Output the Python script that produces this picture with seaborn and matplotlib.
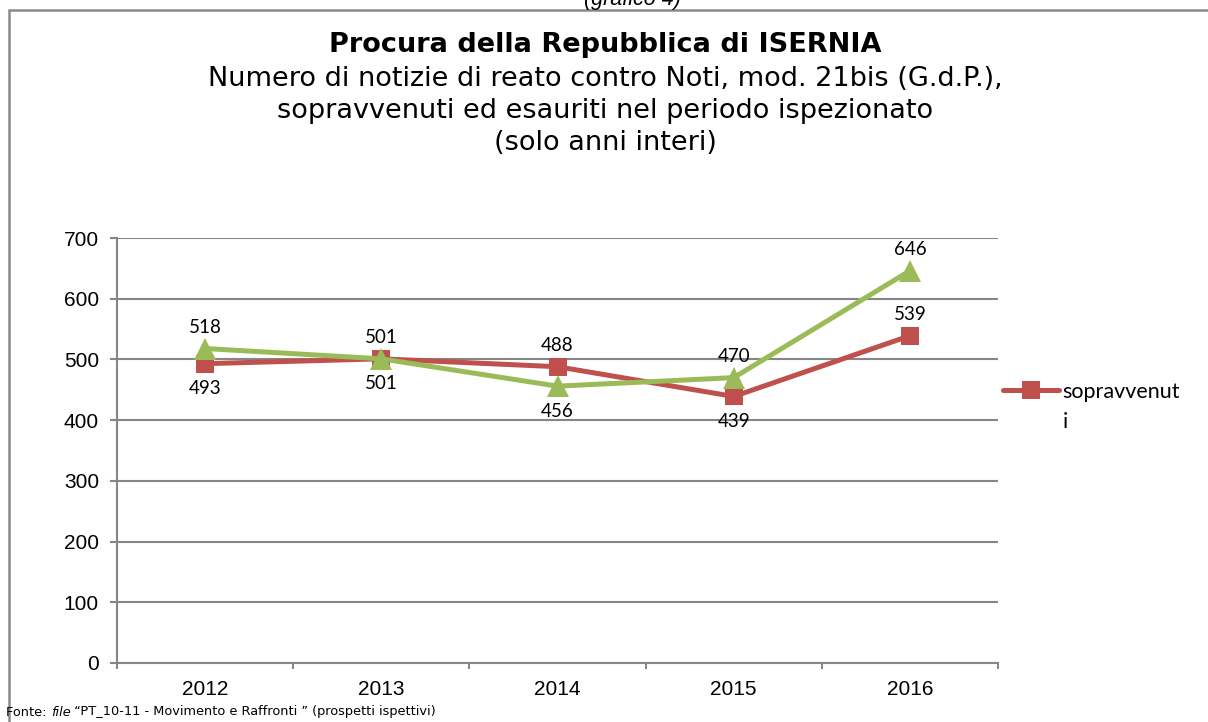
import matplotlib
matplotlib.use("Agg")
import matplotlib.pyplot as plt
import seaborn as sns
import pandas as pd
from matplotlib.patches import Rectangle

years = ["2012", "2013", "2014", "2015", "2016"]
sopravvenuti = [493, 501, 488, 439, 539]
esauriti = [518, 501, 456, 470, 646]
yticks = [0, 100, 200, 300, 400, 500, 600, 700]

# label placement: +1 above, -1 below
pos_sop = [-1, 1, 1, -1, 1]
pos_esa = [1, -1, -1, 1, 1]

RED = "#C0504D"
GREEN = "#9BBB59"
GRAY = "#868686"

sns.set_theme(style="white", rc={"text.color": "black", "axes.labelcolor": "black",
                                 "xtick.color": "black", "ytick.color": "black"})
plt.rcParams['font.family'] = ['Liberation Sans', 'DejaVu Sans']

W, H = 1208, 722
fig = plt.figure(figsize=(W / 100, H / 100), dpi=100)
ax = fig.add_axes([117 / W, 1 - 663 / H, (998 - 117) / W, (663 - 238) / H])

df_s = pd.DataFrame({"x": range(len(years)), "y": sopravvenuti})
df_e = pd.DataFrame({"x": range(len(years)), "y": esauriti})

sns.lineplot(data=df_s, x="x", y="y", ax=ax, color=RED, lw=3.6, marker="s",
             markersize=13, markeredgewidth=0, label="sopravvenut", zorder=3)
sns.lineplot(data=df_e, x="x", y="y", ax=ax, color=GREEN, lw=3.6, marker="^",
             markersize=15.5, markeredgewidth=0, label="_esauriti", zorder=4)

ax.set_xlim(-0.5, len(years) - 0.5)
ax.set_ylim(0, 700)
ax.set_yticks(yticks)
ax.set_yticklabels([str(v) for v in yticks], fontsize=15)
ax.set_xticks(range(len(years)))
ax.set_xticklabels(years, fontsize=15)
ax.set_xticks([i - 0.5 for i in range(len(years) + 1)], minor=True)
ax.tick_params(axis="x", which="major", length=0, pad=12, labelcolor="black")
ax.tick_params(axis="x", which="minor", length=4, width=1.5, color=GRAY, direction="out", bottom=True)
ax.tick_params(axis="y", length=5, width=1.5, color=GRAY, direction="out", left=True, pad=8,
               labelcolor="black")
ax.set_xlabel("")
ax.set_ylabel("")
ax.yaxis.grid(True, color=GRAY, lw=1.5)
ax.xaxis.grid(False)
ax.set_axisbelow(True)
for s in ["top", "right"]:
    ax.spines[s].set_visible(False)
for s in ["left", "bottom"]:
    ax.spines[s].set_color(GRAY)
    ax.spines[s].set_linewidth(1.5)

LBL_FONT = ["Lato", "DejaVu Sans"]

def label(vals, pos):
    for i, (v, p) in enumerate(zip(vals, pos)):
        ax.annotate(str(v), (i, v), xytext=(0, 15 if p > 0 else -18), textcoords="offset points",
                    ha="center", va="center", fontsize=13.5, family=LBL_FONT, color="black")

label(sopravvenuti, pos_sop)
label(esauriti, pos_esa)

leg = ax.legend(loc="center left", bbox_to_anchor=(1003 / W, 1 - 392 / H), bbox_transform=fig.transFigure,
                frameon=False, handlelength=2.6, handletextpad=0.15, borderpad=0, borderaxespad=0,
                prop={"family": LBL_FONT, "size": 15.5})
fig.text(1063 / W, 1 - 422 / H, "i", ha="left", va="center", fontsize=15.5, family=LBL_FONT)

# frame around chart
fig.patches.append(Rectangle((9 / W, -0.1), 1.2, 1 - 10 / H + 0.1, transform=fig.transFigure,
                             fill=False, ec="#8A8A8A", lw=1.8))

fig.text(632 / W, 1 - 5 / H, "(grafico 4)", ha="center", va="baseline", fontsize=15.5, style="italic")
fig.text(605 / W, 1 - 45 / H, "Procura della Repubblica di ISERNIA", ha="center", va="center",
         fontsize=19.5, weight="bold", family=["DejaVu Sans"])
fig.text(605 / W, 1 - 111 / H,
         "Numero di notizie di reato contro Noti, mod. 21bis (G.d.P.),\nsopravvenuti ed esauriti nel periodo ispezionato\n(solo anni interi)",
         ha="center", va="center", fontsize=19.5, family=["DejaVu Sans"], linespacing=1.28)

FY = 1 - 712 / H
FS = 9.3
t1 = fig.text(6 / W, FY, "Fonte: ", ha="left", va="center", fontsize=FS, family=["DejaVu Sans"])
fig.canvas.draw()
r = fig.canvas.get_renderer()
bb = t1.get_window_extent(r)
t2 = fig.text(bb.x1 / W, FY, "file", ha="left", va="center", fontsize=FS, style="italic",
              family=["DejaVu Sans"])
bb2 = t2.get_window_extent(r)
fig.text(bb2.x1 / W, FY, " \u201cPT_10-11 - Movimento e Raffronti \u201d (prospetti ispettivi)",
         ha="left", va="center", fontsize=FS, family=["DejaVu Sans"])

fig.savefig("out.png", dpi=100)
